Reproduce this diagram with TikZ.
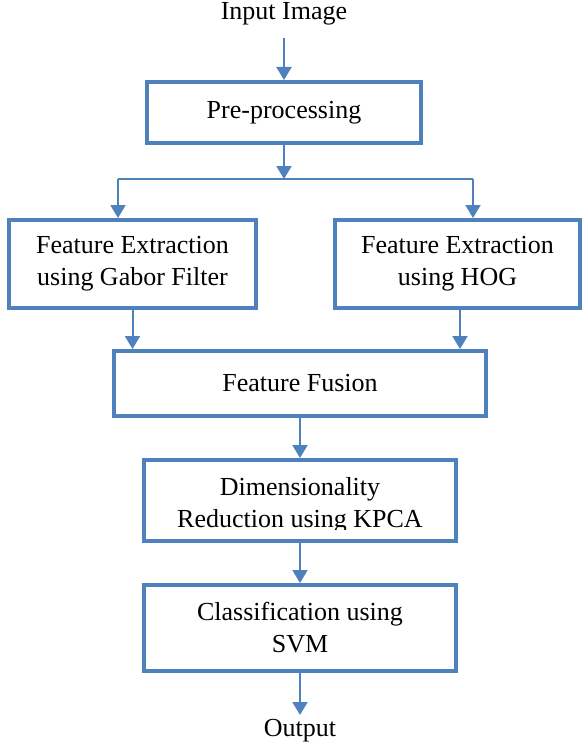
\documentclass[tikz,border=0pt]{standalone}
\usepackage{fontspec}
\setmainfont{Liberation Serif}
\usetikzlibrary{arrows.meta}
\definecolor{fblue}{RGB}{79,129,189}
\tikzset{
  x=1pt, y=-1pt,
  txt/.style={font=\fontsize{26}{32}\selectfont, align=center, inner sep=0pt},
  box/.style={draw=fblue, line width=4pt, rectangle, txt},
  arr/.style={draw=fblue, line width=2pt, -{Triangle[width=15pt,length=13pt]}},
  ln/.style={draw=fblue, line width=1.6pt}
}
\begin{document}
\begin{tikzpicture}
\useasboundingbox (0,0) rectangle (582,749);
\node[txt] (in) at (284,13.5) {Input Image};
\node[box, minimum width=274pt, minimum height=61pt] (pre) at (284,112.5) {Pre-processing};
\coordinate (split) at (284,179);
\coordinate (sl) at (118,179);
\coordinate (sr) at (473,179);
\node[box, minimum width=247pt, minimum height=88pt] (gab) at (132.5,264) {Feature Extraction\\using Gabor Filter};
\node[box, minimum width=245pt, minimum height=88pt] (hog) at (457.5,264) {Feature Extraction\\using HOG};
\node[box, minimum width=372pt, minimum height=65pt] (fus) at (300,383.5) {Feature Fusion};
\node[box, minimum width=312pt, minimum height=81pt] (dim) at (300,500.5) {};
\begin{scope}
\clip (0,0) rectangle (582,529);
\node[txt] (dimtxt) at (300,505) {Dimensionality\\Reduction using KPCA};
\end{scope}
\node[box, minimum width=312pt, minimum height=86pt] (cls) at (300,628) {Classification using\\SVM};
\node[txt] (out) at (300,731) {Output};
\draw[arr, shorten <=13pt] (in.center) ++(0,11.4) -- (pre.north);
\draw[arr] (pre.south) -- (split);
\draw[ln] (sl) -- (sr);
\draw[arr] (sl) -- (sl |- gab.north);
\draw[arr] (sr) -- (sr |- hog.north);
\draw[arr] (gab.south) -- (gab.south |- fus.north);
\draw[arr] ([xshift=2.5pt]hog.south) -- ([xshift=2.5pt]hog.south |- fus.north);
\draw[arr] (fus.south) -- (dim.north);
\draw[arr] (dim.south) -- (cls.north);
\draw[arr, shorten >=16pt] (cls.south) -- (out.center);
\end{tikzpicture}
\end{document}
